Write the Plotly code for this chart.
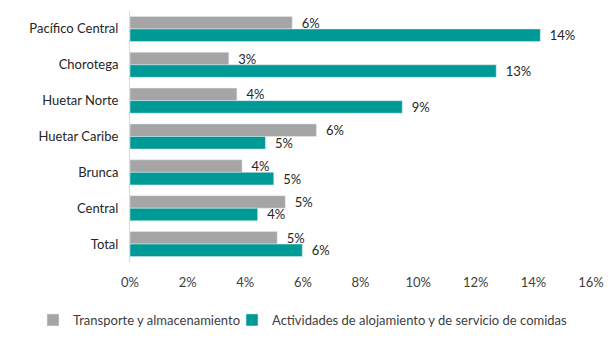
import plotly.graph_objects as go

regions = ["Pacífico Central", "Chorotega", "Huetar Norte", "Huetar Caribe", "Brunca", "Central", "Total"]
transporte = [5.63, 3.43, 3.71, 6.47, 3.89, 5.39, 5.11]
alojamiento = [14.24, 12.71, 9.45, 4.70, 4.99, 4.43, 5.98]
x_ticks = [0, 2, 4, 6, 8, 10, 12, 14, 16]

FONT = "Lato, Calibri, Carlito, sans-serif"
W, H = 614, 341

fig = go.Figure()
fig.add_trace(go.Bar(
    y=regions, x=transporte, orientation="h",
    name="Transporte y almacenamiento",
    marker=dict(color="#A5A5A5"),
    texttemplate="\u2002%{x:.0f}%", textposition="outside", constraintext="none",
    textfont=dict(size=13, color="#262626"), cliponaxis=False,
    legend="legend",
))
fig.add_trace(go.Bar(
    y=regions, x=alojamiento, orientation="h",
    name="Actividades de alojamiento y de servicio de comidas",
    marker=dict(color="#009A96"),
    texttemplate="\u2002%{x:.0f}%", textposition="outside", constraintext="none",
    textfont=dict(size=13, color="#262626"), cliponaxis=False,
    legend="legend2",
))

leg_common = dict(orientation="h", xref="container", yref="container",
                  xanchor="left", y=1 - 320 / H, yanchor="middle",
                  font=dict(size=13, color="#404040"), itemwidth=30,
                  bgcolor="rgba(0,0,0,0)")

fig.update_layout(
    width=W, height=H,
    margin=dict(l=130, r=23, t=11, b=79, autoexpand=False),
    paper_bgcolor="white", plot_bgcolor="white",
    barmode="group", bargap=0.3, bargroupgap=0,
    font=dict(family=FONT, size=13, color="#404040"),
    showlegend=True,
    legend=dict(x=33 / W, **leg_common),
    legend2=dict(x=232 / W, **leg_common),
)
fig.update_xaxes(range=[0, 16], tickvals=x_ticks, ticktext=[f"{v}%" for v in x_ticks],
                 showgrid=False, zeroline=False, showline=False,
                 ticks="outside", ticklen=8, tickcolor="rgba(0,0,0,0)", automargin=False,
                 tickfont=dict(size=13, color="#404040"))
fig.update_yaxes(autorange="reversed", showgrid=False, showline=True, linecolor="#D9D9D9",
                 linewidth=1, ticks="", ticklabelstandoff=8, automargin=False,
                 tickfont=dict(size=13, color="#262626"))

fig.write_html("out.html", config={"displayModeBar": False},
               post_script="document.body.style.margin='0';window.dispatchEvent(new Event('resize'));")
